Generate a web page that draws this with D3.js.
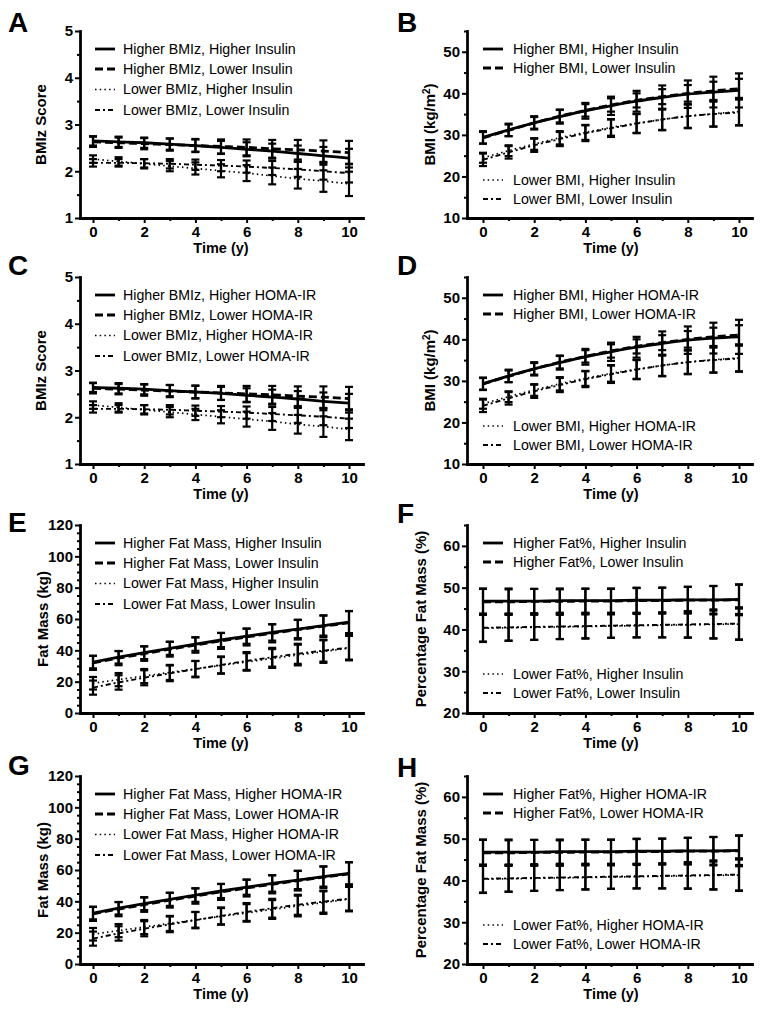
<!DOCTYPE html>
<html><head><meta charset="utf-8">
<script src="https://cdn.jsdelivr.net/npm/d3@7"></script>
<style>
body{margin:0;background:#fff}
svg{display:block}
text{font-family:Arial,"Liberation Sans",sans-serif;fill:#000}
</style>
</head><body>
<svg id="chart" width="763" height="1015"></svg>
<script>
// ---------- data ----------
const years = [0,1,2,3,4,5,6,7,8,9,10];
const xMajorTicks = [0,2,4,6,8,10];
const xMinorTicks = [1,3,5,7,9];

// Panel A: BMIz by insulin
const aHiHi  = [2.65,2.63,2.61,2.58,2.55,2.51,2.47,2.43,2.38,2.33,2.28];
const aHiHiE = [0.10,0.11,0.11,0.12,0.13,0.14,0.15,0.16,0.17,0.19,0.20];
const aHiLo  = [2.63,2.61,2.59,2.57,2.55,2.53,2.51,2.48,2.46,2.43,2.40];
const aHiLoE = [0.11,0.11,0.12,0.13,0.14,0.15,0.17,0.19,0.21,0.23,0.25];
const aLoHi  = [2.26,2.21,2.16,2.11,2.06,2.01,1.96,1.90,1.84,1.79,1.73];
const aLoHiE = [0.08,0.09,0.10,0.11,0.13,0.14,0.17,0.18,0.21,0.23,0.26];
const aLoLo  = [2.18,2.18,2.17,2.16,2.14,2.12,2.10,2.07,2.04,2.00,1.96];
const aLoLoE = [0.08,0.08,0.09,0.10,0.11,0.12,0.13,0.15,0.16,0.18,0.20];

// Panel B: BMI by insulin
const bHiHi  = [29.4,31.2,32.9,34.4,35.8,37.0,38.1,39.0,39.8,40.3,40.7];
const bHiHiE = [1.5,1.5,1.6,1.7,1.9,2.2,2.5,2.9,3.3,3.7,4.1];
const bHiLo  = [29.3,31.1,32.9,34.5,35.9,37.2,38.3,39.2,40.0,40.6,41.1];
const bHiLoE = [1.4,1.4,1.4,1.5,1.5,1.6,1.7,1.8,2.0,2.2,2.4];
const bLoHi  = [24.5,26.2,27.8,29.3,30.6,31.8,32.8,33.7,34.5,35.1,35.6];
const bLoHiE = [1.2,1.3,1.4,1.6,1.8,2.0,2.3,2.6,2.9,3.1,3.3];
const bLoLo  = [24.0,25.8,27.5,29.0,30.4,31.6,32.7,33.7,34.5,35.0,35.4];
const bLoLoE = [1.5,1.5,1.6,1.7,1.9,2.1,2.3,2.5,2.8,3.0,3.1];

// Panel C: BMIz by HOMA-IR
const cHiHi  = [2.64,2.62,2.60,2.57,2.54,2.51,2.47,2.43,2.39,2.34,2.30];
const cHiHiE = [0.10,0.11,0.11,0.12,0.13,0.14,0.15,0.16,0.17,0.19,0.20];
const cHiLo  = [2.62,2.60,2.58,2.56,2.54,2.52,2.50,2.48,2.45,2.43,2.40];
const cHiLoE = [0.11,0.11,0.12,0.13,0.14,0.15,0.17,0.19,0.21,0.23,0.25];
const cLoHi  = [2.26,2.21,2.16,2.11,2.06,2.01,1.96,1.91,1.85,1.80,1.74];
const cLoHiE = [0.08,0.09,0.10,0.11,0.12,0.14,0.16,0.18,0.20,0.22,0.23];
const cLoLo  = [2.18,2.18,2.17,2.16,2.14,2.12,2.10,2.07,2.04,2.01,1.97];
const cLoLoE = [0.08,0.08,0.09,0.10,0.11,0.12,0.13,0.15,0.16,0.18,0.20];

// Panel D: BMI by HOMA-IR
const dHiHi  = [29.3,31.2,32.9,34.4,35.8,37.0,38.1,39.0,39.8,40.3,40.6];
const dHiHiE = [1.5,1.5,1.6,1.7,1.9,2.2,2.5,2.9,3.3,3.7,4.1];
const dHiLo  = [29.3,31.1,32.9,34.5,35.9,37.2,38.3,39.2,40.0,40.6,41.0];
const dHiLoE = [1.4,1.4,1.4,1.5,1.5,1.6,1.7,1.8,2.0,2.2,2.4];
const dLoHi  = [24.5,26.2,27.8,29.3,30.6,31.8,32.8,33.7,34.5,35.1,35.5];
const dLoHiE = [1.2,1.3,1.4,1.6,1.8,2.0,2.3,2.6,2.9,3.1,3.3];
const dLoLo  = [24.0,25.8,27.5,29.0,30.4,31.6,32.7,33.7,34.5,35.0,35.4];
const dLoLoE = [1.5,1.5,1.6,1.7,1.9,2.1,2.3,2.5,2.8,3.0,3.1];

// Panel E: fat mass by insulin
const eHiHi  = [32.5,35.6,38.5,41.3,44.0,46.6,49.0,51.4,53.6,55.8,58.0];
const eHiHiE = [4.0,4.0,4.1,4.2,4.3,4.5,4.8,5.2,5.8,6.4,7.0];
const eHiLo  = [32.0,35.0,37.9,40.7,43.4,46.0,48.5,50.9,53.2,55.4,57.6];
const eHiLoE = [4.5,4.5,4.6,4.7,4.9,5.1,5.4,5.8,6.3,6.9,7.5];
const eLoHi  = [19.0,21.3,23.6,25.9,28.2,30.4,32.6,34.8,37.0,39.2,41.4];
const eLoHiE = [4.0,4.2,4.5,4.8,5.0,5.3,5.6,6.0,6.6,7.2,7.8];
const eLoLo  = [16.2,19.5,22.5,25.3,28.0,30.7,33.2,35.6,37.8,39.8,41.7];
const eLoLoE = [4.5,4.6,4.8,5.0,5.2,5.4,5.7,6.0,6.4,7.0,7.6];

// Panel F: percentage fat mass by insulin
const fHiHi  = [46.8,46.8,46.8,46.9,46.9,46.9,47.0,47.0,47.1,47.1,47.2];
const fHiHiE = [3.0,3.0,2.9,2.9,2.9,2.9,3.0,3.0,3.1,3.3,3.5];
const fHiLo  = [46.6,46.6,46.7,46.7,46.8,46.8,46.9,46.9,47.0,47.0,47.1];
const fHiLoE = [3.1,3.0,3.0,2.9,2.9,2.9,3.0,3.1,3.2,3.4,3.7];
const fLoHi  = [40.3,40.4,40.5,40.6,40.7,40.8,40.9,41.0,41.1,41.2,41.3];
const fLoHiE = [3.3,3.1,3.0,2.9,2.9,2.8,2.8,2.9,3.0,3.3,3.7];
const fLoLo  = [40.4,40.5,40.6,40.7,40.8,40.9,41.0,41.1,41.2,41.3,41.4];
const fLoLoE = [3.3,3.2,3.1,3.0,2.9,2.9,2.9,3.0,3.2,3.5,3.9];

// Panel G: fat mass by HOMA-IR
const gHiHi  = [32.5,35.6,38.5,41.3,44.0,46.6,49.0,51.4,53.6,55.8,57.9];
const gHiHiE = [4.0,4.0,4.1,4.2,4.3,4.5,4.8,5.2,5.8,6.4,7.0];
const gHiLo  = [32.0,35.0,37.9,40.7,43.4,46.0,48.5,50.9,53.2,55.4,57.5];
const gHiLoE = [4.5,4.5,4.6,4.7,4.9,5.1,5.4,5.8,6.3,6.9,7.5];
const gLoHi  = [19.0,21.3,23.6,25.9,28.2,30.4,32.6,34.8,37.0,39.2,41.4];
const gLoHiE = [4.0,4.2,4.5,4.8,5.0,5.3,5.6,6.0,6.6,7.2,7.8];
const gLoLo  = [16.2,19.5,22.5,25.3,28.0,30.7,33.2,35.6,37.8,39.8,41.7];
const gLoLoE = [4.5,4.6,4.8,5.0,5.2,5.4,5.7,6.0,6.4,7.0,7.6];

// Panel H: percentage fat mass by HOMA-IR
const hHiHi  = [46.8,46.8,46.8,46.9,46.9,46.9,47.0,47.0,47.1,47.1,47.2];
const hHiHiE = [3.0,3.0,2.9,2.9,2.9,2.9,3.0,3.0,3.1,3.3,3.5];
const hHiLo  = [46.6,46.6,46.7,46.7,46.8,46.8,46.9,46.9,47.0,47.0,47.1];
const hHiLoE = [3.1,3.0,3.0,2.9,2.9,2.9,3.0,3.1,3.2,3.4,3.7];
const hLoHi  = [40.3,40.4,40.5,40.6,40.7,40.8,40.9,41.0,41.1,41.2,41.3];
const hLoHiE = [3.3,3.1,3.0,2.9,2.9,2.8,2.8,2.9,3.0,3.3,3.7];
const hLoLo  = [40.4,40.5,40.6,40.7,40.8,40.9,41.0,41.1,41.2,41.3,41.4];
const hLoLoE = [3.3,3.2,3.1,3.0,2.9,2.9,2.9,3.0,3.2,3.5,3.9];

// Axis tick values
const bmizMajor = [1,2,3,4,5],        bmizMinor = [1.5,2.5,3.5,4.5];
const bmiMajor  = [10,20,30,40,50],   bmiMinor  = [15,25,35,45,55];
const fmMajor   = [0,20,40,60,80,100,120];
const fmMinor   = [5,10,15,25,30,35,45,50,55,65,70,75,85,90,95,105,110,115];
const pctMajor  = [20,30,40,50,60],   pctMinor  = [25,35,45,55,65];

// Legend labels
const legA = ["Higher BMIz, Higher Insulin","Higher BMIz, Lower Insulin","Lower BMIz, Higher Insulin","Lower BMIz, Lower Insulin"];
const legB = ["Higher BMI, Higher Insulin","Higher BMI, Lower Insulin","Lower BMI, Higher Insulin","Lower BMI, Lower Insulin"];
const legC = ["Higher BMIz, Higher HOMA-IR","Higher BMIz, Lower HOMA-IR","Lower BMIz, Higher HOMA-IR","Lower BMIz, Lower HOMA-IR"];
const legD = ["Higher BMI, Higher HOMA-IR","Higher BMI, Lower HOMA-IR","Lower BMI, Higher HOMA-IR","Lower BMI, Lower HOMA-IR"];
const legE = ["Higher Fat Mass, Higher Insulin","Higher Fat Mass, Lower Insulin","Lower Fat Mass, Higher Insulin","Lower Fat Mass, Lower Insulin"];
const legF = ["Higher Fat%, Higher Insulin","Higher Fat%, Lower Insulin","Lower Fat%, Higher Insulin","Lower Fat%, Lower Insulin"];
const legG = ["Higher Fat Mass, Higher HOMA-IR","Higher Fat Mass, Lower HOMA-IR","Lower Fat Mass, Higher HOMA-IR","Lower Fat Mass, Lower HOMA-IR"];
const legH = ["Higher Fat%, Higher HOMA-IR","Higher Fat%, Lower HOMA-IR","Lower Fat%, Higher HOMA-IR","Lower Fat%, Lower HOMA-IR"];

// ---------- layout & styles ----------
const cols = [
  {axisX:80,  x0:93,  x10:349, end:363, letterX:8,   legLineX:95,  legTextX:123},
  {axisX:467, x0:483, x10:739, end:752, letterX:397, legLineX:483, legTextX:513}
];
const rows = [
  {top:31,  bottom:218},
  {top:277, bottom:464},
  {top:525, bottom:713},
  {top:776, bottom:964}
];
const styles = [
  {dash:null,      width:2.8},
  {dash:"8,4",     width:2.8},
  {dash:"1.5,3.2", width:1.7},
  {dash:"5,3,2,3", width:1.9}
];
const leftLegendOffsets  = [18,38,58.5,79];
const rightLegendOffsets = [18,37,149,168];

const panels = [
  {letter:"A", col:0,row:0, letterY:32,  ylab:"BMIz Score", ylabX:41, domain:[1,5],  major:bmizMajor, minor:bmizMinor, leg:legA, legOff:leftLegendOffsets,
   series:[[aHiHi,aHiHiE],[aHiLo,aHiLoE],[aLoHi,aLoHiE],[aLoLo,aLoLoE]]},
  {letter:"B", col:1,row:0, letterY:32,  ylab:"BMI", ylabX:430, domain:[10,55], major:bmiMajor, minor:bmiMinor, leg:legB, legOff:rightLegendOffsets,
   series:[[bHiHi,bHiHiE],[bHiLo,bHiLoE],[bLoHi,bLoHiE],[bLoLo,bLoLoE]]},
  {letter:"C", col:0,row:1, letterY:275, ylab:"BMIz Score", ylabX:41, domain:[1,5],  major:bmizMajor, minor:bmizMinor, leg:legC, legOff:leftLegendOffsets,
   series:[[cHiHi,cHiHiE],[cHiLo,cHiLoE],[cLoHi,cLoHiE],[cLoLo,cLoLoE]]},
  {letter:"D", col:1,row:1, letterY:275, ylab:"BMI", ylabX:430, domain:[10,55], major:bmiMajor, minor:bmiMinor, leg:legD, legOff:rightLegendOffsets,
   series:[[dHiHi,dHiHiE],[dHiLo,dHiLoE],[dLoHi,dLoHiE],[dLoLo,dLoLoE]]},
  {letter:"E", col:0,row:2, letterY:532, ylab:"Fat Mass (kg)", ylabX:43, domain:[0,120], major:fmMajor, minor:fmMinor, leg:legE, legOff:leftLegendOffsets,
   series:[[eHiHi,eHiHiE],[eHiLo,eHiLoE],[eLoHi,eLoHiE],[eLoLo,eLoLoE]]},
  {letter:"F", col:1,row:2, letterY:523, ylab:"Percentage Fat Mass (%)", ylabX:421, domain:[20,65], major:pctMajor, minor:pctMinor, leg:legF, legOff:rightLegendOffsets,
   series:[[fHiHi,fHiHiE],[fHiLo,fHiLoE],[fLoHi,fLoHiE],[fLoLo,fLoLoE]]},
  {letter:"G", col:0,row:3, letterY:775, ylab:"Fat Mass (kg)", ylabX:43, domain:[0,120], major:fmMajor, minor:fmMinor, leg:legG, legOff:leftLegendOffsets,
   series:[[gHiHi,gHiHiE],[gHiLo,gHiLoE],[gLoHi,gLoHiE],[gLoLo,gLoLoE]]},
  {letter:"H", col:1,row:3, letterY:777, ylab:"Percentage Fat Mass (%)", ylabX:421, domain:[20,65], major:pctMajor, minor:pctMinor, leg:legH, legOff:rightLegendOffsets,
   series:[[hHiHi,hHiHiE],[hHiLo,hHiLoE],[hLoHi,hLoHiE],[hLoLo,hLoLoE]]}
];

// ---------- drawing ----------
const svg = d3.select("#chart");
const capHalf = 4;

panels.forEach(p => {
  const c = cols[p.col], r = rows[p.row];
  const unit = (c.x10 - c.x0) / 10;
  const x = d3.scaleLinear()
    .domain([(c.axisX - c.x0) / unit, 10 + (c.end - c.x10) / unit])
    .range([c.axisX, c.end]);
  const y = d3.scaleLinear().domain(p.domain).range([r.bottom, r.top]);
  const g = svg.append("g");

  // panel letter
  g.append("text").attr("x", c.letterX).attr("y", p.letterY)
    .attr("font-size", 28).attr("font-weight", "bold").text(p.letter);

  // y axis
  const yAx = g.append("g").attr("transform", `translate(${c.axisX},0)`)
    .call(d3.axisLeft(y).tickValues(p.major).tickSize(5).tickSizeOuter(0).tickPadding(2).tickFormat(d3.format("d")));
  const yMin = g.append("g").attr("transform", `translate(${c.axisX},0)`)
    .call(d3.axisLeft(y).tickValues(p.minor).tickSize(3).tickFormat(""));
  yMin.select(".domain").remove();

  // x axis
  const xAx = g.append("g").attr("transform", `translate(0,${r.bottom})`)
    .call(d3.axisBottom(x).tickValues(xMajorTicks).tickSize(5).tickSizeOuter(0).tickPadding(3).tickFormat(d3.format("d")));
  const xMin = g.append("g").attr("transform", `translate(0,${r.bottom})`)
    .call(d3.axisBottom(x).tickValues(xMinorTicks).tickSize(3).tickFormat(""));
  xMin.select(".domain").remove();

  [yAx, yMin, xAx, xMin].forEach(a => {
    a.selectAll(".domain").attr("stroke", "#000").attr("stroke-width", 2.8).attr("stroke-linecap", "square");
    a.selectAll(".tick line").attr("stroke", "#000").attr("stroke-width", 2);
    a.selectAll(".tick text").attr("font-size", 15).attr("font-weight", "bold")
      .attr("font-family", "Arial, 'Liberation Sans', sans-serif").attr("fill", "#000");
  });

  // axis titles
  g.append("text").attr("x", (c.x0 + c.x10) / 2).attr("y", r.bottom + 35)
    .attr("text-anchor", "middle").attr("font-size", 14.5).attr("font-weight", "bold").text("Time (y)");
  const yl = g.append("text")
    .attr("transform", `translate(${p.ylabX},${(r.top + r.bottom) / 2}) rotate(-90)`)
    .attr("text-anchor", "middle").attr("dy", "0.35em")
    .attr("font-size", 15).attr("font-weight", "bold");
  if (p.ylab === "BMI") {
    yl.append("tspan").text("BMI (kg/m");
    yl.append("tspan").attr("baseline-shift", "super").attr("font-size", 10).text("2");
    yl.append("tspan").text(")");
  } else {
    yl.text(p.ylab);
  }

  // error bars
  p.series.forEach(([vals, errs]) => {
    const eg = g.append("g").attr("stroke", "#000").attr("stroke-width", 2.2).attr("fill", "none");
    years.forEach((t, i) => {
      const xi = x(t), lo = y(vals[i] - errs[i]), hi = y(vals[i] + errs[i]);
      eg.append("line").attr("x1", xi).attr("x2", xi).attr("y1", lo).attr("y2", hi);
      eg.append("line").attr("x1", xi - capHalf).attr("x2", xi + capHalf).attr("y1", lo).attr("y2", lo);
      eg.append("line").attr("x1", xi - capHalf).attr("x2", xi + capHalf).attr("y1", hi).attr("y2", hi);
    });
  });

  // lines
  const line = d3.line().x((d, i) => x(years[i])).y(d => y(d)).curve(d3.curveMonotoneX);
  p.series.forEach(([vals], k) => {
    const st = styles[k];
    g.append("path").datum(vals).attr("d", line)
      .attr("fill", "none").attr("stroke", "#000").attr("stroke-width", st.width)
      .attr("stroke-dasharray", st.dash);
  });

  // legend
  p.leg.forEach((lab, k) => {
    const st = styles[k];
    const ly = r.top + p.legOff[k];
    g.append("line").attr("x1", c.legLineX).attr("x2", c.legLineX + 20).attr("y1", ly).attr("y2", ly)
      .attr("stroke", "#000").attr("stroke-width", st.width).attr("stroke-dasharray", st.dash);
    g.append("text").attr("x", c.legTextX).attr("y", ly).attr("dy", "0.35em")
      .attr("font-size", 14.2).text(lab);
  });
});
</script>
</body></html>
